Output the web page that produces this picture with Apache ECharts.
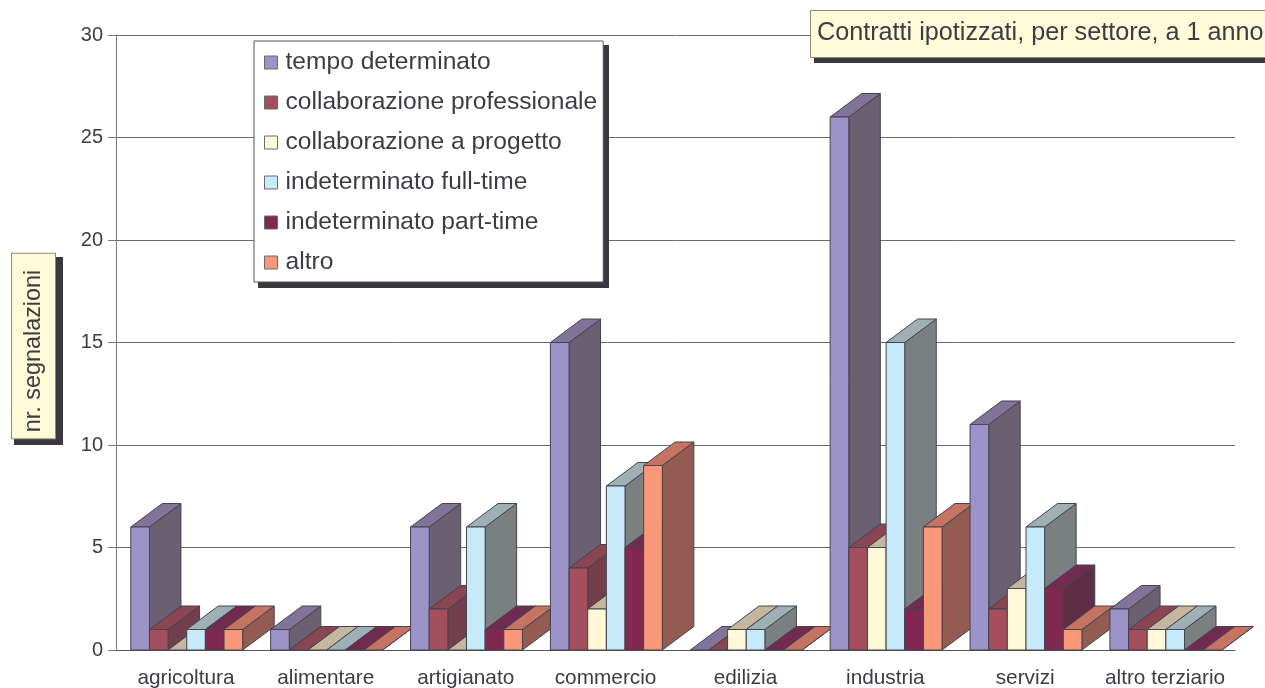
<!DOCTYPE html>
<html>
<head>
<meta charset="utf-8">
<style>html,body{margin:0;padding:0;background:#fff;overflow:hidden}#chart{width:1265px;height:688px}</style>
<script src="https://cdn.jsdelivr.net/npm/echarts@6/dist/echarts.min.js"></script>
</head>
<body>
<div id="chart"></div>
<script>
const settori = ['agricoltura','alimentare','artigianato','commercio','edilizia','industria','servizi','altro terziario'];
const tempoDeterminato = [6,1,6,15,0,26,11,2];
const collabProfessionale = [1,0,2,4,0,5,2,1];
const collabProgetto = [0,0,0,2,1,5,3,1];
const indetFullTime = [1,0,6,8,1,15,6,1];
const indetPartTime = [1,0,1,5,0,2,3,0];
const altro = [1,0,1,9,0,6,1,0];
const yTicks = {min:0,max:30,interval:5};

const serie = [
  {name:'tempo determinato',values:tempoDeterminato,front:'#9c94c8',top:'#807498',side:'#6b5f72'},
  {name:'collaborazione professionale',values:collabProfessionale,front:'#a34f5e',top:'#8a4653',side:'#743f4c'},
  {name:'collaborazione a progetto',values:collabProgetto,front:'#fff9d8',top:'#c4b79d',side:'#8f8a70'},
  {name:'indeterminato full-time',values:indetFullTime,front:'#c7eafb',top:'#9eb0b5',side:'#7a8080'},
  {name:'indeterminato part-time',values:indetPartTime,front:'#802850',top:'#722b50',side:'#5e2f44'},
  {name:'altro',values:altro,front:'#f99878',top:'#c47460',side:'#945b52'}
];

const INK = '#3c3c44';
const EDGE = '#45434f';
const SHADOW = '#38383e';
const NOTE = '#fffad8';
const FONT = '"Liberation Sans", Arial, sans-serif';
const DEPTH_X = 31.5, DEPTH_Y = 23.5;

// Extruded bar: front, side and top faces, painted left to right within each sector.
function barRenderer(s, idx) {
  return function (params, api) {
    const cat = api.value(0), val = api.value(1);
    const band = api.size([1, 0])[0];
    const w = band * 0.8 / serie.length;
    const top = api.coord([cat, val]);
    const base = api.coord([cat, 0]);
    const x0 = top[0] + (idx - serie.length / 2) * w + 0.8;
    const x1 = x0 + w;
    const z2 = cat * 10 + idx;
    const face = (pts, fill) => ({
      type: 'polygon', z2,
      shape: {points: pts},
      style: {fill, stroke: EDGE, lineWidth: 1, lineJoin: 'round'}
    });
    const children = [];
    children.push(face([[x1, base[1]], [x1 + DEPTH_X, base[1] - DEPTH_Y], [x1 + DEPTH_X, top[1] - DEPTH_Y], [x1, top[1]]], s.side));
    children.push(face([[x0, top[1]], [x0 + DEPTH_X, top[1] - DEPTH_Y], [x1 + DEPTH_X, top[1] - DEPTH_Y], [x1, top[1]]], s.top));
    if (val > 0) children.push(face([[x0, top[1]], [x1, top[1]], [x1, base[1]], [x0, base[1]]], s.front));
    return {type: 'group', children};
  };
}

// Solid drop shadow placed behind a note box.
function dropShadow(x, y, width, height) {
  return {type: 'rect', z: 3, silent: true, shape: {x, y, width, height}, style: {fill: SHADOW}};
}

const chart = echarts.init(document.getElementById('chart'), null, {renderer: 'canvas'});
chart.setOption({
  animation: false,
  backgroundColor: '#fff',
  grid: {left: 116, right: 30, top: 35, bottom: 38, outerBoundsMode: 'none'},
  title: {
    text: 'Contratti ipotizzati, per settore, a 1 anno',
    left: 810, top: 10,
    padding: [11, 60, 12, 7],
    backgroundColor: NOTE, borderColor: '#8c8c7c', borderWidth: 1,
    textStyle: {fontFamily: FONT, fontWeight: 'normal', fontSize: 25.2, color: INK}
  },
  legend: {
    left: 254, top: 41, orient: 'vertical',
    padding: [9, 6, 7, 10],
    itemWidth: 13, itemHeight: 13, itemGap: 15,
    icon: 'rect', selectedMode: false,
    backgroundColor: '#fff', borderColor: '#55555c', borderWidth: 1,
    itemStyle: {borderColor: '#6a6a72', borderWidth: 1},
    textStyle: {fontFamily: FONT, fontSize: 24.6, color: INK, padding: [0, 0, 0, 3]},
    data: serie.map(s => s.name)
  },
  xAxis: {
    type: 'category', data: settori,
    axisLine: {lineStyle: {color: '#555', width: 1}},
    axisTick: {show: false},
    axisLabel: {fontFamily: FONT, fontSize: 20.8, color: INK, margin: 18, interval: 0}
  },
  yAxis: {
    type: 'value', min: yTicks.min, max: yTicks.max, interval: yTicks.interval,
    axisLine: {show: true, lineStyle: {color: '#7a7a7a', width: 1}},
    axisTick: {show: true, length: 8, lineStyle: {color: '#7a7a7a'}},
    axisLabel: {fontFamily: FONT, fontSize: 20, color: INK, margin: 13},
    splitLine: {lineStyle: {color: '#6a6a6a', width: 1}}
  },
  graphic: [
    dropShadow(814, 14, 460, 49),
    dropShadow(258, 45, 351, 243),
    dropShadow(14, 257, 49, 188),
    {
      type: 'text', x: 33.5, y: 346, rotation: Math.PI / 2, z: 5,
      style: {
        text: 'nr. segnalazioni', fill: INK,
        font: '23.4px ' + FONT, align: 'center', verticalAlign: 'middle',
        backgroundColor: NOTE, borderColor: '#8c8c7c', borderWidth: 1,
        padding: [10, 16, 10, 6]
      }
    }
  ],
  series: serie.map((s, idx) => ({
    type: 'custom', name: s.name,
    clip: false,
    itemStyle: {color: s.front},
    encode: {x: 0, y: 1},
    data: s.values.map((v, i) => [i, v]),
    renderItem: barRenderer(s, idx)
  }))
});
</script>
</body>
</html>
